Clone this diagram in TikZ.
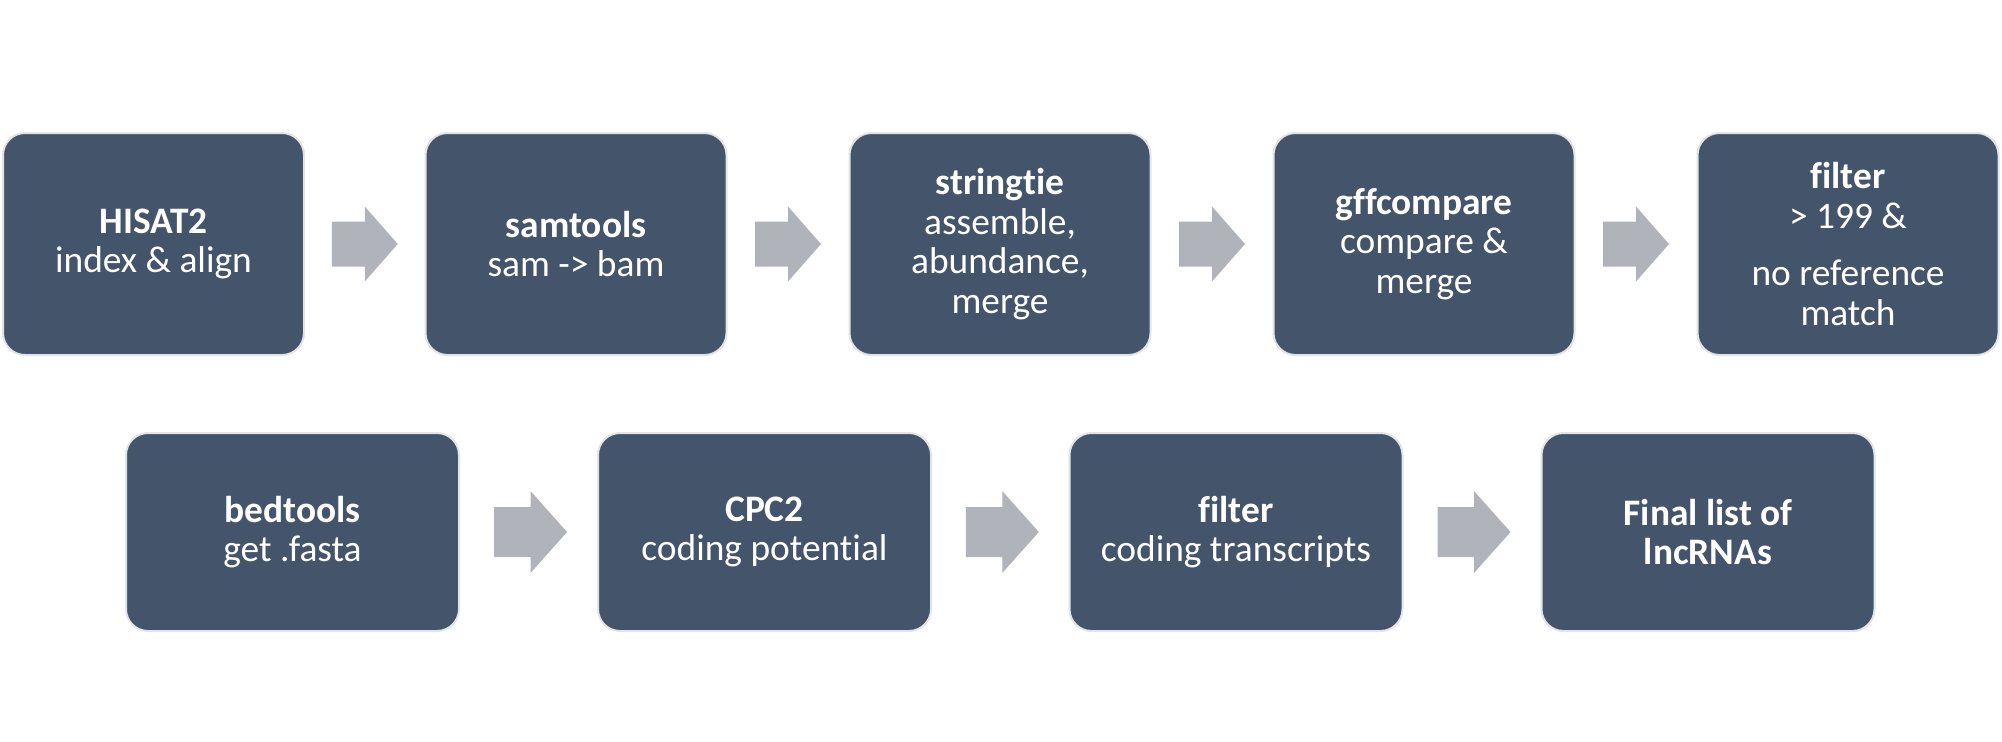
\documentclass[tikz,border=0pt]{standalone}
\usepackage{fontspec}
\setmainfont{Carlito}[Ligatures=NoCommon]
\usetikzlibrary{calc}
\definecolor{boxfill}{HTML}{44546A}
\definecolor{boxline}{HTML}{E2E4E8}
\definecolor{arrowfill}{HTML}{B0B3B9}
\tikzset{
  stepbox/.style={rectangle, rounded corners=11pt, fill=boxfill, draw=boxline, line width=1pt,
    text=white, align=center, inner sep=0pt,
    font=\fontsize{18.7}{19.8}\selectfont},
  toprow/.style={stepbox, minimum width=150.5pt, minimum height=111pt},
  botrow/.style={stepbox, minimum width=166.5pt, minimum height=99pt},
}
\newcommand\fatarrow[4]{% #1 coordinate name, #2 half length, #3 half shaft, #4 half head
  \fill[arrowfill] ([shift={(-#2,-#3)}]#1) -- ([shift={(0,-#3)}]#1) -- ([shift={(0,-#4)}]#1)
    -- ([shift={(#2,0)}]#1) -- ([shift={(0,#4)}]#1) -- ([shift={(0,#3)}]#1)
    -- ([shift={(-#2,#3)}]#1) -- cycle;}
\begin{document}
\begin{tikzpicture}[x=0.5pt,y=-0.5pt]
\useasboundingbox[fill=white] (0,0) rectangle (2002,741);
% top row
\node[toprow] (b1) at (153.5,244) {\textbf{HISAT2}\\index \& align};
\node[toprow] (b2) at (576,244) {\textbf{samtools}\\sam -> bam};
\node[toprow] (b3) at (1000,244) {\textbf{stringtie}\\assemble,\\abundance,\\merge};
\node[toprow] (b4) at (1424,244) {\textbf{gffcompare}\\compare \&\\merge};
\node[toprow] (b5) at (1848,244) {\textbf{filter}\\> 199 \&\\[9pt]no reference\\match};
% bottom row
\node[botrow] (c1) at (292.5,532) {\textbf{bedtools}\\get .fasta};
\node[botrow] (c2) at (764.5,532) {\textbf{CPC2}\\coding potential};
\node[botrow] (c3) at (1236,532) {\textbf{filter}\\coding transcripts};
\node[botrow] (c4) at (1708,532) {\textbf{Final list of}\\\textbf{lncRNAs}};
% arrows
\foreach \a/\b/\n in {b1/b2/m1,b2/b3/m2,b3/b4/m3,b4/b5/m4}{
  \coordinate (\n) at ($(\a.east)!0.5!(\b.west)$);
  \fatarrow{\n}{33}{22.5}{37.5}
}
\foreach \a/\b/\n in {c1/c2/n1,c2/c3/n2,c3/c4/n3}{
  \coordinate (\n) at ($(\a.east)!0.5!(\b.west)+(2,0)$);
  \fatarrow{\n}{36.5}{25}{41}
}
\end{tikzpicture}
\end{document}
